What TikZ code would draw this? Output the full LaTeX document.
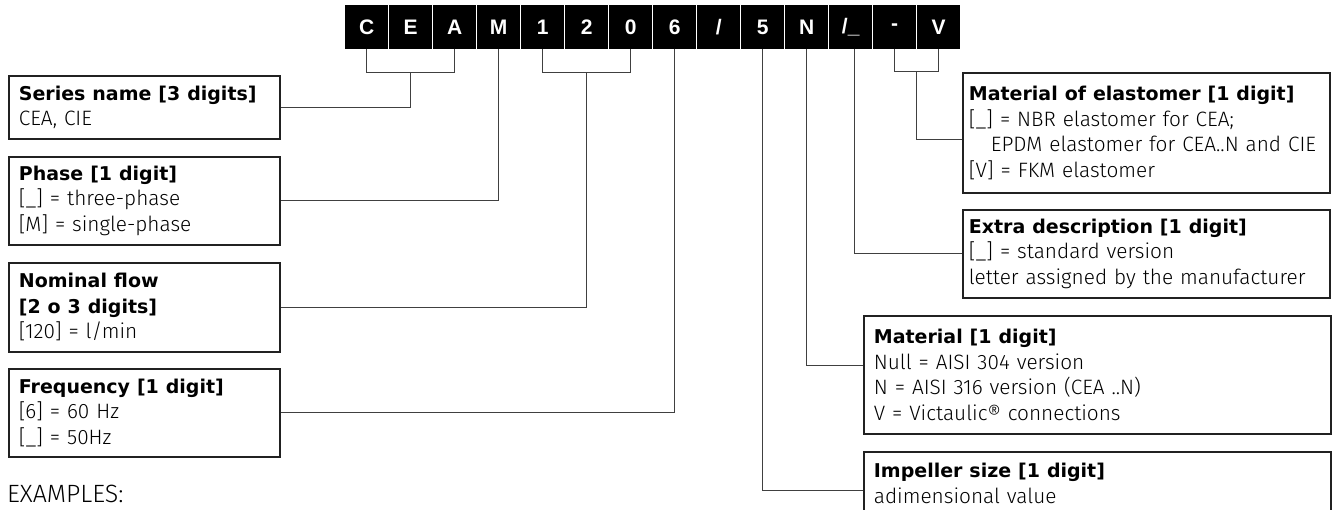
\documentclass[tikz,border=0pt]{standalone}
\usepackage{fontspec}
\setmainfont{Fira Sans Light}[BoldFont={DejaVu Sans Bold}]
\newfontfamily\codefont{Liberation Sans}
\usetikzlibrary{calc}
\definecolor{boxc}{gray}{0.13}
\definecolor{connc}{gray}{0.25}
\newcommand{\ttl}[1]{{\fontsize{19}{25.5}\selectfont\bfseries #1}}
\begin{document}
\begin{tikzpicture}[x=1pt,y=-1pt,
  infobox/.style={draw=boxc, line width=1.8pt, rectangle, anchor=north west,
    inner ysep=0pt, inner xsep=10pt, align=left,
    font=\fontsize{20.8}{25.5}\selectfont},
  letter/.style={fill=black, draw=none, rectangle, minimum width=43pt,
    minimum height=44pt, inner sep=0pt, anchor=north west, text=white,
    font=\codefont\bfseries\fontsize{21}{21}\selectfont},
  conn/.style={draw=connc, line width=1.1pt}]
\useasboundingbox (0,0) rectangle (1340,510);

% code letters
\node[letter] (l1)  at (345,5) {C};
\node[letter] (l2)  at (389,5) {E};
\node[letter] (l3)  at (433,5) {A};
\node[letter] (l4)  at (477,5) {M};
\node[letter] (l5)  at (521,5) {1};
\node[letter] (l6)  at (565,5) {2};
\node[letter] (l7)  at (609,5) {0};
\node[letter] (l8)  at (653,5) {6};
\node[letter] (l9)  at (697,5) {/};
\node[letter] (l10) at (741,5) {5};
\node[letter] (l11) at (785,5) {N};
\node[letter] (l12) at (829,5) {/\_};
\node[letter] (l13) at (873,5) {-};
\node[letter] (l14) at (917,5) {V};

% left boxes
\node[infobox, minimum width=271pt, minimum height=63pt, text width=251pt] (series) at (8,75)
  {\ttl{Series name [3 digits]}\\CEA, CIE};
\node[infobox, minimum width=271pt, minimum height=88pt, text width=251pt] (phase) at (8,156)
  {\ttl{Phase [1 digit]}\\{[\_]} = three-phase\\{[M]} = single-phase};
\node[infobox, minimum width=271pt, minimum height=89pt, text width=251pt] (nominal) at (8,262)
  {\ttl{Nominal flow}\\\ttl{[2 o 3 digits]}\\{[120]} = l/min};
\node[infobox, minimum width=271pt, minimum height=88pt, text width=251pt] (freq) at (8,368)
  {\ttl{Frequency [1 digit]}\\{[6]} = 60 Hz\\{[\_]} = 50Hz};

% right boxes
\node[infobox, inner xsep=6pt, minimum width=367pt, minimum height=120pt, text width=355pt] (elast) at (962,72)
  {\ttl{Material of elastomer [1 digit]}\\{[\_]} = NBR elastomer for CEA;\\\hspace*{22pt}EPDM elastomer for CEA..N and CIE\\{[V]} = FKM elastomer};
\node[infobox, inner xsep=6pt, minimum width=367pt, minimum height=88pt, text width=355pt] (extra) at (962,209)
  {\ttl{Extra description [1 digit]}\\{[\_]} = standard version\\letter assigned by the manufacturer};
\node[infobox, minimum width=467pt, minimum height=118pt, text width=447pt] (mat) at (863,315)
  {\ttl{Material [1 digit]}\\Null = AISI 304 version\\N = AISI 316 version (CEA ..N)\\V = Victaulic® connections};
\node[infobox, minimum width=467pt, minimum height=63pt, text width=447pt] (imp) at (863,451)
  {\ttl{Impeller size [1 digit]}\\adimensional value};

\node[anchor=base west, inner sep=0pt, text depth=0pt, font=\fontsize{25}{25}\selectfont] (ex) at (7,502) {EXAMPLES:};

% bracket junctions
\coordinate (bCA) at ($(l1.south)!0.5!(l3.south)+(0,23)$);
\coordinate (b10) at ($(l5.south)!0.5!(l7.south)+(0,23)$);
\coordinate (bmV) at ($(l13.south)!0.5!(l14.south)+(0,22)$);

% connectors
\draw[conn] (l1.south) -- ($(l1.south)+(0,23)$) -- ($(l3.south)+(0,23)$) -- (l3.south);
\draw[conn] (bCA) |- (series.east);
\draw[conn] (l4.south) |- (phase.east);
\draw[conn] (l5.south) -- ($(l5.south)+(0,23)$) -- ($(l7.south)+(0,23)$) -- (l7.south);
\draw[conn] (b10) |- (nominal.east);
\draw[conn] (l8.south) |- (freq.east);
\draw[conn] (l13.south) -- ($(l13.south)+(0,22)$) -- ($(l14.south)+(0,22)$) -- (l14.south);
\draw[conn] (bmV) |- ([yshift=-7pt]elast.west);
\draw[conn] ([xshift=4pt]l12.south) |- (extra.west);
\draw[conn] (l11.south) |- ([yshift=9pt]mat.west);
\draw[conn] (l10.south) |- ([yshift=-7.5pt]imp.west);
\end{tikzpicture}
\end{document}
